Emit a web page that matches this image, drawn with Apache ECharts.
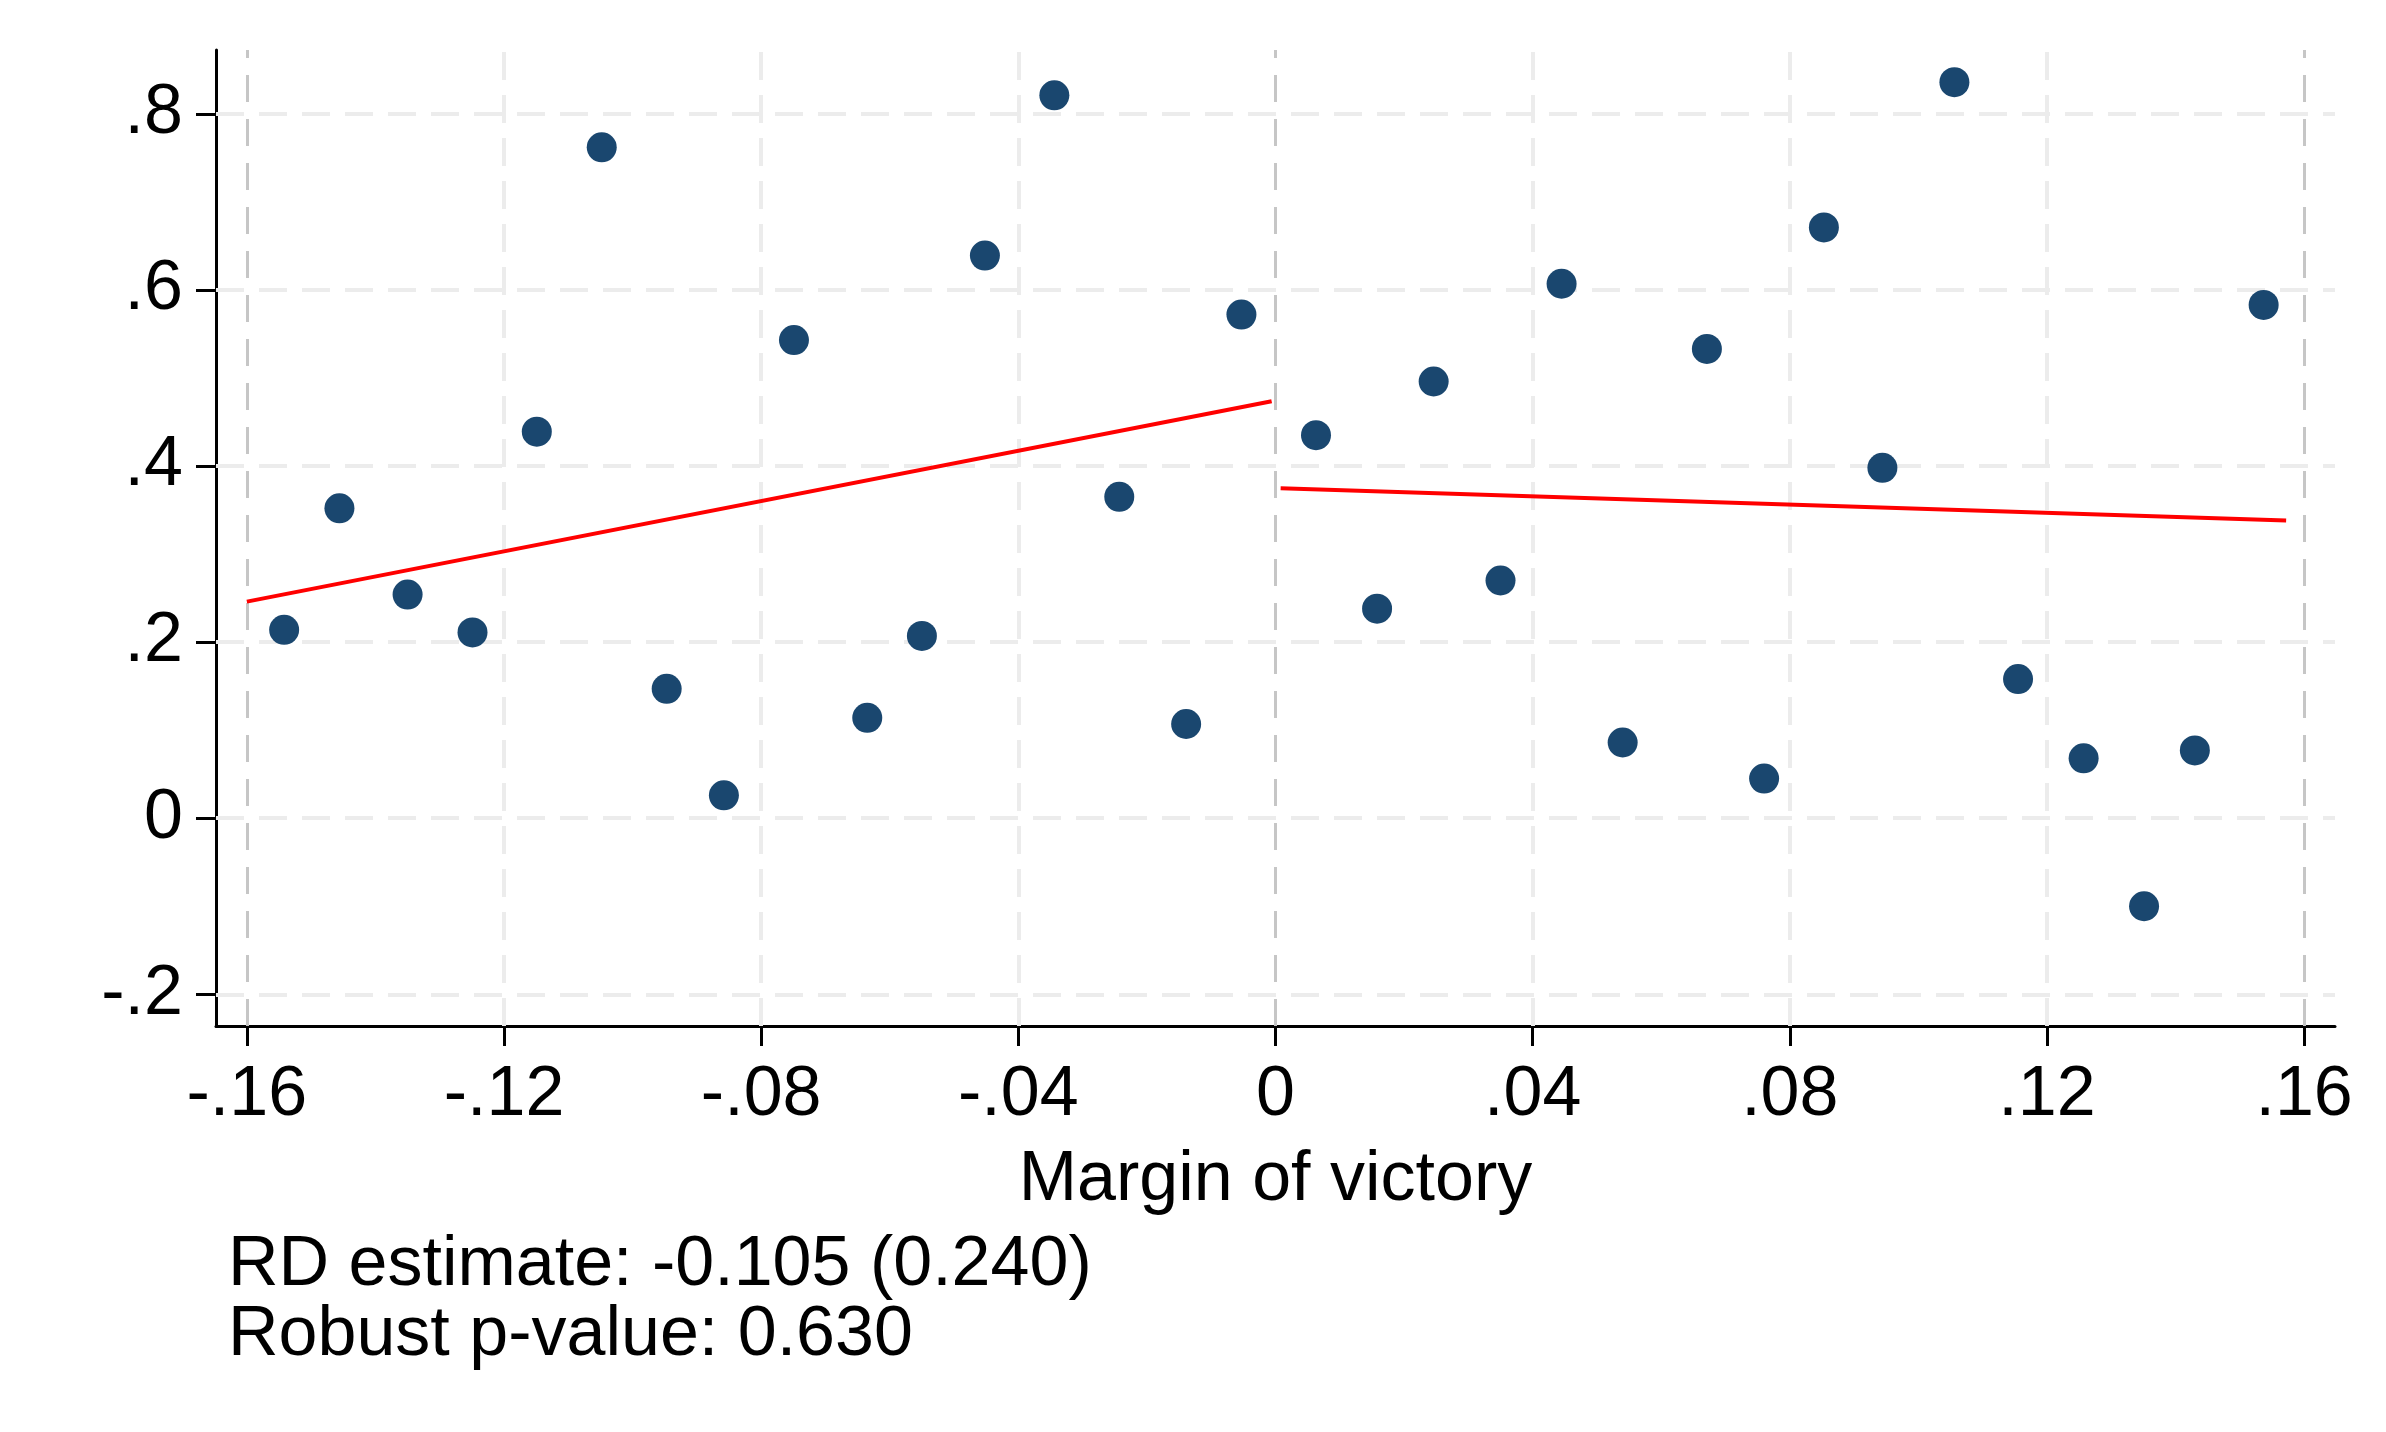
<!DOCTYPE html>
<html>
<head>
<meta charset="utf-8">
<script src="https://cdn.jsdelivr.net/npm/echarts@6/dist/echarts.min.js"></script>
<style>
html,body{margin:0;padding:0;background:#fff;}
#chart{width:2386px;height:1432px;}
</style>
</head>
<body>
<div id="chart"></div>
<script>
// Binned scatter, left of cutoff
var xLeft = [-0.1542, -0.1456, -0.1350, -0.1249, -0.1149, -0.1048, -0.0947, -0.0858, -0.0749, -0.0635, -0.0550, -0.0452, -0.0344, -0.0243, -0.0139, -0.0053];
var yLeft = [0.214, 0.352, 0.254, 0.211, 0.439, 0.762, 0.147, 0.026, 0.543, 0.114, 0.207, 0.639, 0.821, 0.365, 0.107, 0.572];
// Binned scatter, right of cutoff
var xRight = [0.0063, 0.0158, 0.0246, 0.0350, 0.0445, 0.0540, 0.0671, 0.0760, 0.0853, 0.0944, 0.1056, 0.1155, 0.1257, 0.1351, 0.1430, 0.1537];
var yRight = [0.435, 0.238, 0.496, 0.270, 0.607, 0.086, 0.533, 0.045, 0.671, 0.398, 0.836, 0.158, 0.068, -0.100, 0.077, 0.583];
// Linear fits
var fitLeftX = [-0.16, -0.0006];
var fitLeftY = [0.246, 0.4735];
var fitRightX = [0.0008, 0.1572];
var fitRightY = [0.3747, 0.338];
// Ticks
var xTicks = [-0.16, -0.12, -0.08, -0.04, 0, 0.04, 0.08, 0.12, 0.16];
var xTickLabels = ['-.16', '-.12', '-.08', '-.04', '0', '.04', '.08', '.12', '.16'];
var yTicks = [-0.2, 0, 0.2, 0.4, 0.6, 0.8];
var yTickLabels = ['-.2', '0', '.2', '.4', '.6', '.8'];
var xRefLines = [-0.16, 0, 0.16];
var xTitle = 'Margin of victory';
var noteLines = ['RD estimate: -0.105 (0.240)', 'Robust p-value: 0.630'];

function zip(a, b) { return a.map(function (v, i) { return [v, b[i]]; }); }
function lookup(ticks, labels, v) {
  for (var i = 0; i < ticks.length; i++) { if (Math.abs(ticks[i] - v) < 1e-6) return labels[i]; }
  return '';
}

var FONT = '"Liberation Sans", Arial, sans-serif';
var chart = echarts.init(document.getElementById('chart'));

var lightGrid = { color: '#ececec', width: 4, type: [28, 15] };
var darkRef = { color: '#c6c6c6', width: 3, type: [27, 17] };

var option = {
  backgroundColor: '#ffffff',
  animation: false,
  grid: { left: 216, right: 51, top: 50, bottom: 406, containLabel: false },
  xAxis: {
    type: 'value', min: -0.1648, max: 0.1648,
    name: xTitle, nameLocation: 'middle', nameGap: 120,
    nameTextStyle: { fontFamily: FONT, fontSize: 70, color: '#000' },
    axisLine: { show: true, onZero: false, lineStyle: { color: '#000', width: 3 } },
    axisTick: { show: true, customValues: xTicks, length: 20, lineStyle: { color: '#000', width: 3 } },
    axisLabel: { customValues: xTicks, margin: 35, fontFamily: FONT, fontSize: 70, color: '#000',
      formatter: function (v) { return lookup(xTicks, xTickLabels, v); } },
    splitLine: { show: false }
  },
  yAxis: {
    type: 'value', min: -0.236, max: 0.8725,
    axisLine: { show: true, onZero: false, lineStyle: { color: '#000', width: 3 } },
    axisTick: { show: true, customValues: yTicks, length: 20, lineStyle: { color: '#000', width: 3 } },
    axisLabel: { customValues: yTicks, margin: 33, fontFamily: FONT, fontSize: 70, color: '#000',
      padding: [14, 0, 0, 0],
      formatter: function (v) { return lookup(yTicks, yTickLabels, v); } },
    splitLine: { show: false }
  },
  graphic: [{
    type: 'text', left: 228, top: 1231,
    style: { text: noteLines.join('\n'), fontFamily: FONT, fontSize: 70, lineHeight: 70, fill: '#000' }
  }],
  series: [
    {
      type: 'line', data: [], silent: true, z: 1,
      markLine: {
        silent: true, symbol: 'none', label: { show: false }, z: 1,
        lineStyle: lightGrid,
        data: yTicks.map(function (v) { return { yAxis: v }; })
          .concat(xTicks.filter(function (v) { return xRefLines.indexOf(v) < 0; }).map(function (v) { return { xAxis: v }; }))
      }
    },
    {
      type: 'line', data: [], silent: true, z: 1,
      markLine: {
        silent: true, symbol: 'none', label: { show: false }, z: 1,
        lineStyle: darkRef,
        data: xRefLines.map(function (v) { return { xAxis: v }; })
      }
    },
    {
      type: 'scatter', data: zip(xLeft, yLeft), symbolSize: 30, z: 5,
      itemStyle: { color: '#1a476f', opacity: 1 }
    },
    {
      type: 'scatter', data: zip(xRight, yRight), symbolSize: 30, z: 5,
      itemStyle: { color: '#1a476f', opacity: 1 }
    },
    {
      type: 'line', data: zip(fitLeftX, fitLeftY), showSymbol: false, symbol: 'none', z: 6,
      lineStyle: { color: '#ff0000', width: 4 }
    },
    {
      type: 'line', data: zip(fitRightX, fitRightY), showSymbol: false, symbol: 'none', z: 6,
      lineStyle: { color: '#ff0000', width: 4 }
    }
  ]
};
chart.setOption(option);
</script>
</body>
</html>
